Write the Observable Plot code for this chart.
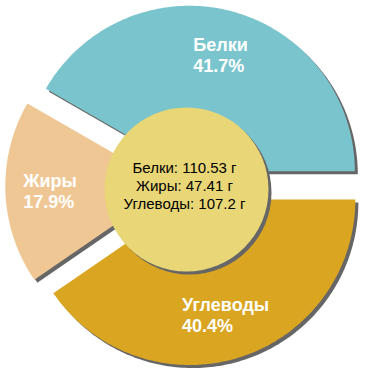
<!DOCTYPE html>
<html><head><meta charset="utf-8">
<script src="https://cdn.jsdelivr.net/npm/d3@7"></script>
<script src="https://cdn.jsdelivr.net/npm/@observablehq/plot@0.6"></script>
<style>body{margin:0;background:#fff}</style>
</head><body><div id="chart"></div>
<script>
// ---- data ----
const categories = ["Белки", "Жиры", "Углеводы"];
const grams = [110.53, 47.41, 107.2];
const unit = "г";

// ---- styling / layout ----
const sliceColors = ["#7ac5cd", "#efc794", "#daa520"];
const centerColor = "#e8d677";
const shadowColor = "#666666";
const fontFamily = "'Liberation Sans', Arial, sans-serif";
const size = 370, half = size / 2;
const outerR = 165.5, explode = 14.7, labelR = 135.5, centerR = 82;

const total = d3.sum(grams);
const cum = [0, ...d3.cumsum(grams)];

const pts = [];
const labels = [];
const canvas = document.createElement("canvas");
const ctx = canvas.getContext("2d");
ctx.font = "bold 18px " + fontFamily;

categories.forEach((name, i) => {
  const a0 = 2 * Math.PI * cum[i] / total;
  const a1 = 2 * Math.PI * cum[i + 1] / total;
  const mid = (a0 + a1) / 2;
  const ox = explode * Math.cos(mid), oy = explode * Math.sin(mid);
  pts.push({name, x: ox, y: oy});
  const n = Math.max(2, Math.ceil((a1 - a0) * 180 / Math.PI));
  for (let k = 0; k <= n; k++) {
    const a = a0 + (a1 - a0) * k / n;
    pts.push({name, x: ox + outerR * Math.cos(a), y: oy + outerR * Math.sin(a)});
  }
  pts.push({name, x: ox, y: oy});
  const pct = (100 * grams[i] / total).toFixed(1) + "%";
  const w = Math.max(ctx.measureText(name).width, ctx.measureText(pct).width);
  const cx = labelR * Math.cos(mid), cy = labelR * Math.sin(mid);
  labels.push({t: name + "\n" + pct, x: cx - w / 2, y: cy});
});

const centerText = categories.map((c, i) => `${c}: ${grams[i]} ${unit}`).join("\n");

const chart = Plot.plot({
  width: size, height: size, margin: 0,
  x: {domain: [-half, half], axis: null},
  y: {domain: [-half, half], axis: null},
  color: {domain: categories, range: sliceColors},
  style: {background: "white"},
  marks: [
    Plot.line(pts, {x: "x", y: "y", z: "name", fill: shadowColor, stroke: "none", dx: 3, dy: 3}),
    Plot.line(pts, {x: "x", y: "y", z: "name", fill: "name", stroke: "none"}),
    Plot.dot([{x: 0, y: 0}], {x: "x", y: "y", r: centerR, fill: shadowColor, stroke: "none", dx: 4, dy: 7}),
    Plot.dot([{x: 0, y: 0}], {x: "x", y: "y", r: centerR, fill: centerColor, stroke: "none", dx: 1, dy: 4}),
    Plot.text([{x: 0, y: 0, t: centerText}], {x: "x", y: "y", text: "t", fontSize: 15, lineHeight: 1.2, fill: "black", fontFamily, dx: -1}),
    Plot.text(labels, {x: "x", y: "y", text: "t", textAnchor: "start", fill: "white", fontWeight: "bold", fontSize: 18, lineHeight: 1.15, fontFamily})
  ]
});
document.getElementById("chart").appendChild(chart);
</script>
</body></html>
